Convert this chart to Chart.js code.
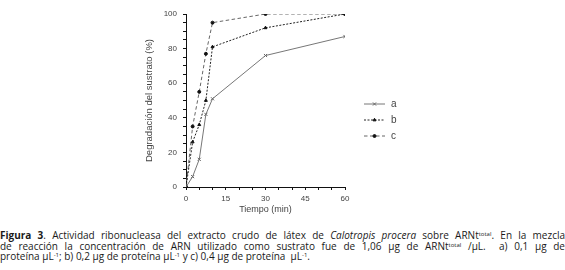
<!DOCTYPE html>
<html>
<head>
<meta charset="utf-8">
<script src="https://cdn.jsdelivr.net/npm/chart.js@4"></script>
<style>
  html, body { margin: 0; padding: 0; background: #fff; }
  body { width: 565px; height: 270px; position: relative; overflow: hidden; }
  #grafico { position: absolute; left: 0; top: 0; width: 565px; height: 220px; }
  #leyenda {
    position: absolute; left: 0; top: 230px; width: 565px;
    font-family: "Open Sans", sans-serif; font-size: 10px; line-height: 10.6px; color: #1a1a1a;
  }
  #leyenda .linea { text-align: justify; text-align-last: justify; white-space: nowrap; }
  #leyenda .ultima { text-align-last: left; }
  #leyenda sup { font-size: 6px; vertical-align: 3px; line-height: 0; }
</style>
</head>
<body>
<div id="grafico"><canvas id="canvas"></canvas></div>
<div id="leyenda">
  <div class="linea"><b>Figura 3</b>. Actividad ribonucleasa del extracto crudo de látex de <i>Calotropis procera</i> sobre ARNt<sup>total</sup>. En la mezcla</div>
  <div class="linea">de reacción la concentración de ARN utilizado como sustrato fue de 1,06 µg de ARNt<sup>total</sup> /µL.&nbsp; a) 0,1 µg de</div>
  <div class="linea ultima">proteína µL<sup>-1</sup>; b) 0,2 µg de proteína µL<sup>-1</sup> y c) 0,4 µg de proteína&nbsp; µL<sup>-1</sup>.</div>
</div>
<script>
const tiempo = [0, 2.5, 5, 7.5, 10, 30, 60];
const serieA = [0, 6, 16, 42, 51, 76, 87];
const serieB = [0, 26, 36, 50, 81, 92, 100];
const serieC = [0, 35, 55, 77, 95, 100, 100];
const nombres = ["a", "b", "c"];
const ticksX = [0, 15, 30, 45, 60];
const ticksY = [0, 20, 40, 60, 80, 100];

const texto = "#444";
const fuente = "'Liberation Sans', Arial, sans-serif";

function puntos(valores) {
  return tiempo.map((t, i) => ({ x: t, y: valores[i] }));
}

const estilos = [
  { borderColor: "#777", borderDash: [], pointStyle: "crossRot", pointRadius: 2.2, punto: "#666" },
  { borderColor: "#222", borderDash: [2, 1.5], pointStyle: "triangle", pointRadius: 1.7, punto: "#111" },
  { borderColor: "#666", borderDash: [3.5, 2.5], pointStyle: "circle", pointRadius: 1.5, punto: "#111" },
];

const datasets = [serieA, serieB, serieC].map((v, i) => ({
  label: nombres[i],
  data: puntos(v),
  borderColor: estilos[i].borderColor,
  backgroundColor: estilos[i].punto,
  pointBackgroundColor: estilos[i].punto,
  pointBorderColor: estilos[i].punto,
  borderWidth: 1,
  borderDash: estilos[i].borderDash,
  pointStyle: estilos[i].pointStyle,
  pointRadius: estilos[i].pointRadius,
  pointBorderWidth: 1,
  tension: 0,
  fill: false,
}));

// leyenda dibujada a la derecha del gráfico
const leyendaPlugin = {
  id: "leyendaSeries",
  afterDraw(chart) {
    const ctx = chart.ctx;
    const x0 = 364, x1 = 385, ys = [104, 120, 136];
    chart.data.datasets.forEach((ds, i) => {
      const y = ys[i];
      ctx.save();
      ctx.strokeStyle = ds.borderColor;
      ctx.lineWidth = 1;
      ctx.setLineDash(ds.borderDash);
      ctx.beginPath();
      ctx.moveTo(x0, y);
      ctx.lineTo(x1, y);
      ctx.stroke();
      ctx.setLineDash([]);
      ctx.fillStyle = ds.pointBackgroundColor;
      ctx.strokeStyle = ds.pointBorderColor;
      Chart.helpers.drawPoint(ctx, {
        pointStyle: ds.pointStyle,
        radius: ds.pointRadius,
        borderWidth: 1,
      }, (x0 + x1) / 2, y);
      ctx.font = "10px " + fuente;
      ctx.fillStyle = texto;
      ctx.textBaseline = "middle";
      ctx.fillText(ds.label, 391, y);
      ctx.restore();
    });
  },
};

new Chart(document.getElementById("canvas"), {
  type: "line",
  data: { datasets },
  options: {
    responsive: true,
    maintainAspectRatio: false,
    animation: false,
    layout: { padding: { left: 140, right: 220, top: 14, bottom: 0 } },
    plugins: { legend: { display: false }, tooltip: { enabled: false } },
    scales: {
      x: {
        type: "linear",
        min: 0,
        max: 60,
        afterFit: (s) => { s.height = 33; },
        border: { display: true, color: "#111", width: 1 },
        grid: { drawOnChartArea: false, drawTicks: true, tickLength: 3, tickColor: "#111" },
        ticks: {
          stepSize: 5,
          autoSkip: false,
          maxRotation: 0,
          padding: 4,
          color: texto,
          font: { family: fuente, size: 8 },
          callback: (v) => (ticksX.includes(v) ? String(v) : ""),
        },
        title: {
          display: true,
          text: "Tiempo (min)",
          color: texto,
          font: { family: fuente, size: 9 },
          padding: { top: 0, bottom: 5 },
        },
      },
      y: {
        min: 0,
        max: 100,
        afterFit: (s) => { s.width = 46; },
        border: { display: true, color: "#111", width: 1 },
        grid: { drawOnChartArea: false, drawTicks: true, tickLength: 3, tickColor: "#111" },
        ticks: {
          stepSize: 5,
          autoSkip: false,
          padding: 6,
          color: texto,
          font: { family: fuente, size: 8 },
          callback: (v) => (ticksY.includes(v) ? String(v) : ""),
        },
        title: {
          display: true,
          text: "Degradación del sustrato (%)",
          color: texto,
          font: { family: fuente, size: 9.5 },
          padding: { top: 4, bottom: 0 },
        },
      },
    },
  },
  plugins: [leyendaPlugin],
});
</script>
</body>
</html>
